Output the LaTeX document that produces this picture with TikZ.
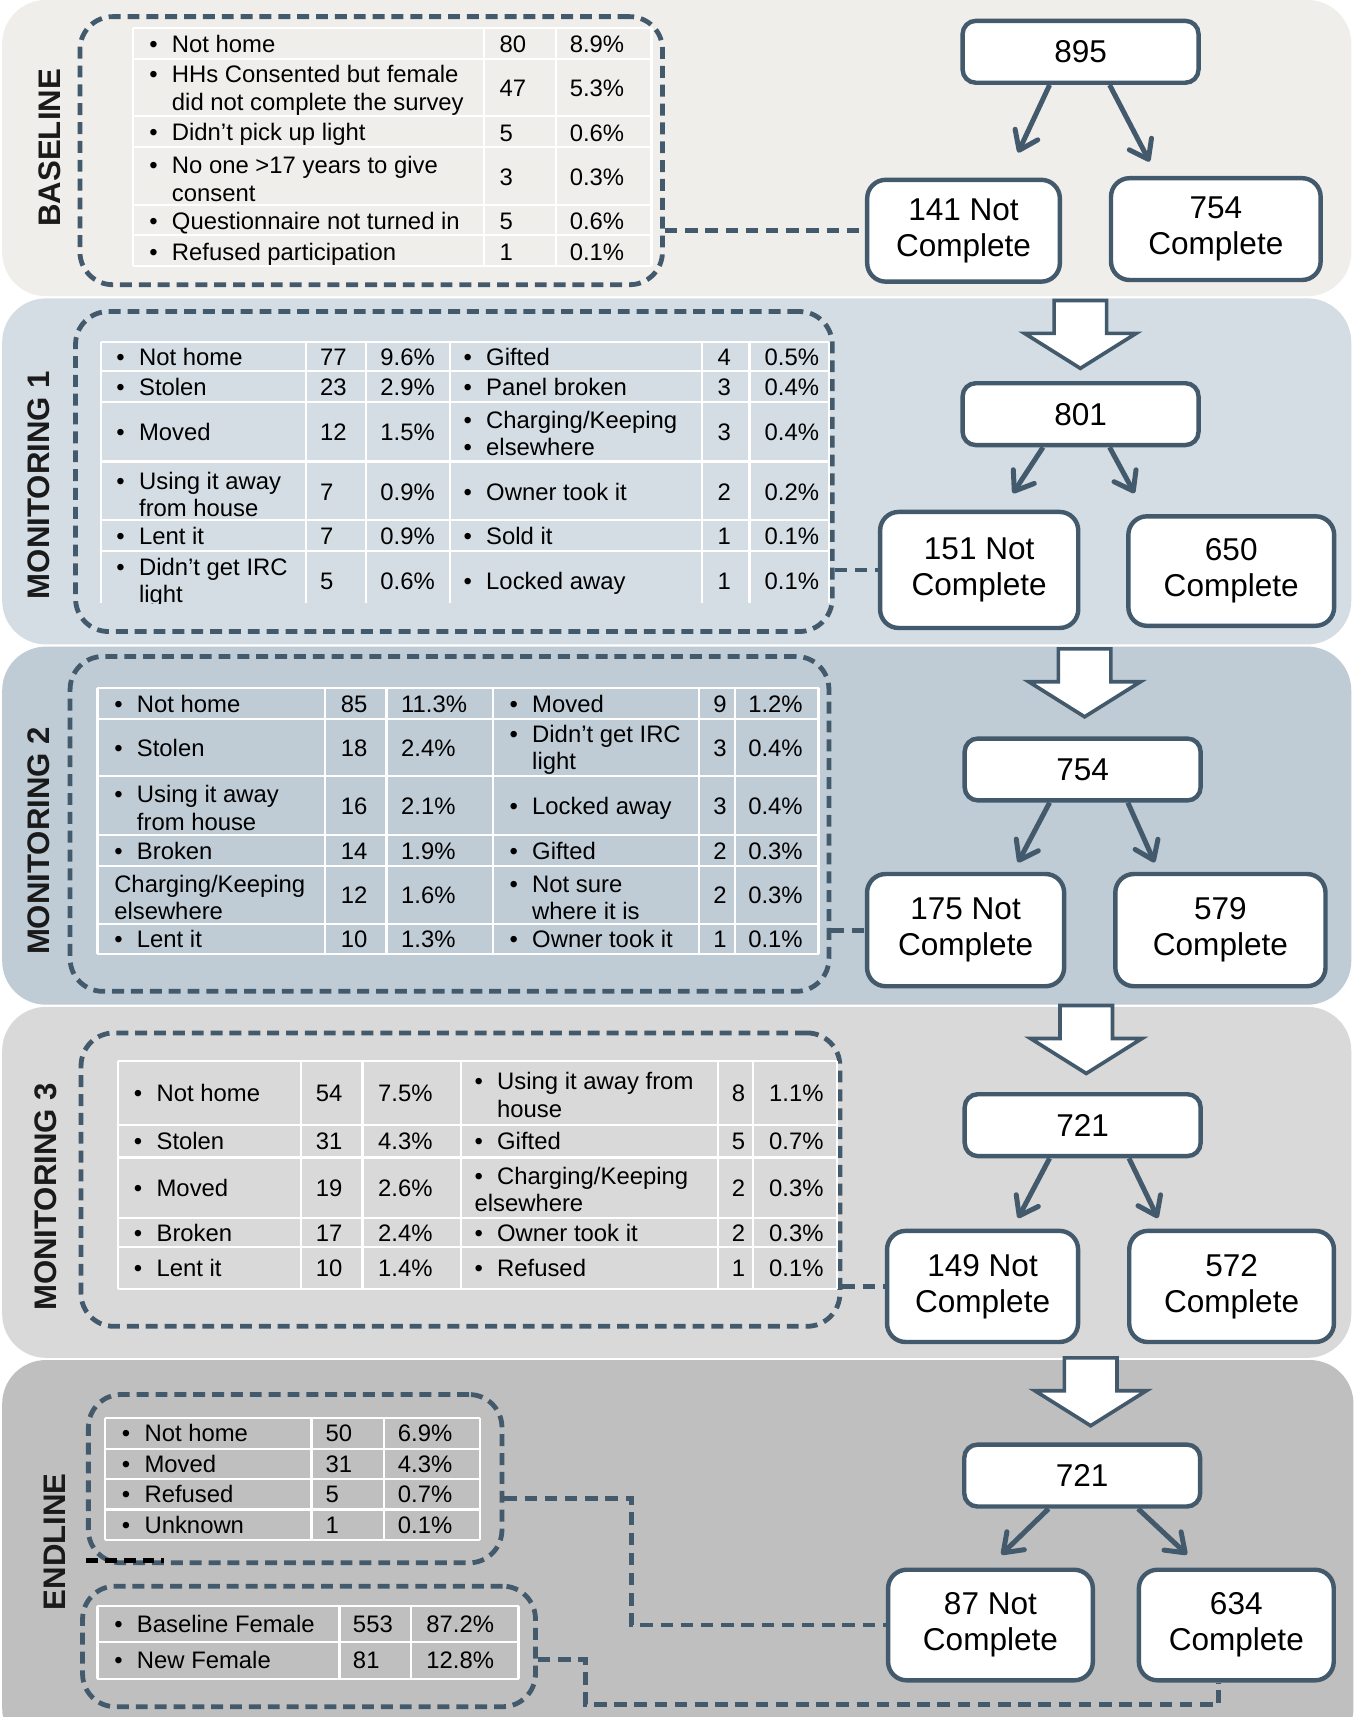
\documentclass[tikz,border=0pt]{standalone}
\usepackage{fontspec}
\setmainfont{Liberation Sans}
\usetikzlibrary{arrows.meta, positioning, fit, calc}
\definecolor{slate}{HTML}{435A6C}
\definecolor{bandbase}{HTML}{F0EEEA}
\definecolor{bandmone}{HTML}{D4DDE4}
\definecolor{bandmtwo}{HTML}{BFCCD6}
\definecolor{bandmthree}{HTML}{D9D9D9}
\definecolor{bandend}{HTML}{BFBFBF}
\definecolor{labelink}{HTML}{1A1A1A}
\newcommand{\tabfont}{\fontsize{12.4}{14.2}\selectfont}
\newcommand{\boxfont}{\fontsize{16.4}{18.7}\selectfont}
\newcommand{\tbul}{\makebox[0.95em][l]{\textbullet}}
\newcommand{\tind}{\hspace*{0.95em}}
\newcommand{\tstrut}{\rule[-0.18em]{0pt}{1.08em}}
\newcommand{\tablegrid}[6]{%
  \foreach \gy in {#1} {\draw[grid] (#3,\gy) -- (#4,\gy);}%
  \foreach \gx in {#2} {\draw[grid] (\gx,#5) -- (\gx,#6);}%
}
\tikzset{
  band/.style={rounded corners=0.8cm},
  dbox/.style={draw=slate, line width=2.5pt, dash pattern=on 6.2pt off 3.6pt, rounded corners=0.6cm, inner sep=0pt},
  dlink/.style={draw=slate, line width=2.5pt, dash pattern=on 6.5pt off 4pt},
  stubdash/.style={draw=black, line width=2.5pt, dash pattern=on 6.2pt off 3.6pt},
  grid/.style={draw=white, line width=1.1pt},
  cell/.style={font=\tabfont, inner sep=0pt, anchor=west, align=left},
  phase/.style={rotate=90, font=\fontsize{16.2}{18}\selectfont\bfseries, text=labelink},
  topbox/.style={draw=slate, fill=white, line width=2.3pt, rounded corners=0.24cm,
    minimum width=4.31cm, minimum height=1.13cm, font=\boxfont},
  leafbox/.style={draw=slate, fill=white, line width=2.3pt, rounded corners=0.34cm,
    align=center, font=\boxfont, minimum height=2.05cm},
  split/.style={draw=slate, line width=2.6pt, -{Straight Barb[length=9pt, width=13pt, round]}},
  blockarr/.style={draw=slate, fill=white, line width=1.9pt, line join=miter},
  downarrow/.pic={\path[blockarr] (-24,0) -- (24,0) -- (24,30) -- (51,30) -- (0,62) -- (-51,30) -- (-24,30) -- cycle;}
}

\begin{document}
\begin{tikzpicture}[x=0.02cm, y=-0.02cm]
\useasboundingbox (0,0) rectangle (1237,1568);
\fill[white] (0,0) rectangle (1237,1568);
\fill[band, bandbase] (2,0) rectangle (1234,270.5);
\fill[band, bandmone] (2,272.5) rectangle (1234,588.5);
\fill[band, bandmtwo] (2,590.5) rectangle (1234,917.5);
\fill[band, bandmthree] (2,919.5) rectangle (1234,1240);
\fill[band, bandend] (2,1242) rectangle (1236,1600);

\node[dbox, fit={(73,15.2) (605,260)}] (dbase) {};
\node[dbox, fit={(69,284.5) (760,576.7)}] (dm1) {};
\node[dbox, fit={(64,599.5) (757,905.3)}] (dm2) {};
\node[dbox, fit={(74,943.3) (767,1211.2)}] (dm3) {};
\node[dbox, fit={(80.7,1273.5) (458.4,1427.2)}] (de1) {};
\node[dbox, fit={(75.4,1448.5) (489,1558.6)}] (de2) {};

\tablegrid{25.5,53.5,106,134.5,187,215,243}{121.5,442,507.5,595}{121.5}{595}{25.5}{243}
\foreach \y/\txt/\cnt/\pct [count=\i] in {
  40/{\tbul Not home}/80/8.9\%,
  80.5/{\tbul HHs Consented but female\\\tind did not complete the survey}/47/5.3\%,
  121/{\tbul Didn’t pick up light}/5/0.6\%,
  161.5/{\tbul No one >17 years to give\\\tind consent}/3/0.3\%,
  202/{\tbul Questionnaire not turned in}/5/0.6\%,
  230/{\tbul Refused participation}/1/0.1\%}{
  \node[cell] (b\i-t) at (136,\y) {\tstrut\txt};
  \node[cell] (b\i-n) at (456,\y) {\tstrut\cnt};
  \node[cell] (b\i-p) at (520,\y) {\tstrut\pct};
}

\begin{scope}
\clip (90,310) rectangle (760,551);
\tablegrid{312,339,367,421.5,475,503}{92.5,279.5,334,411,641,684.5,757}{92.5}{757}{312}{551}
\foreach \y/\la/\na/\pa/\lb/\nb/\pb [count=\i] in {
  325.5/{\tbul Not home}/77/9.6\%/{\tbul Gifted}/4/0.5\%,
  353/{\tbul Stolen}/23/2.9\%/{\tbul Panel broken}/3/0.4\%,
  394/{\tbul Moved}/12/1.5\%/{\tbul Charging/Keeping\\\tbul elsewhere}/3/0.4\%,
  449.5/{\tbul Using it away\\\tind from house}/7/0.9\%/{\tbul Owner took it}/2/0.2\%,
  489.5/{\tbul Lent it}/7/0.9\%/{\tbul Sold it}/1/0.1\%,
  530.5/{\tbul Didn’t get IRC\\\tind light}/5/0.6\%/{\tbul Locked away}/1/0.1\%}{
  \node[cell] (ma\i-t) at (106,\y) {\tstrut\la};
  \node[cell] (ma\i-n) at (292,\y) {\tstrut\na};
  \node[cell] (ma\i-p) at (347,\y) {\tstrut\pa};
  \node[cell] (ma\i-u) at (423,\y) {\tstrut\lb};
  \node[cell] (ma\i-m) at (655,\y) {\tstrut\nb};
  \node[cell] (ma\i-q) at (698,\y) {\tstrut\pb};
}
\end{scope}

\tablegrid{628.5,656.5,709,762.5,791,843.5,871}{89,297,353,450,638.5,671.5,747.5}{89}{747.5}{628.5}{871}
\foreach \y/\la/\na/\pa/\lb/\nb/\pb [count=\i] in {
  643/{\tbul Not home}/85/11.3\%/{\tbul Moved}/9/1.2\%,
  683/{\tbul Stolen}/18/2.4\%/{\tbul Didn’t get IRC\\\tind light}/3/0.4\%,
  736/{\tbul Using it away\\\tind from house}/16/2.1\%/{\tbul Locked away}/3/0.4\%,
  777/{\tbul Broken}/14/1.9\%/{\tbul Gifted}/2/0.3\%,
  817.5/{Charging/Keeping\\elsewhere}/12/1.6\%/{\tbul Not sure\\\tind where it is}/2/0.3\%,
  857.5/{\tbul Lent it}/10/1.3\%/{\tbul Owner took it}/1/0.1\%}{
  \node[cell] (mb\i-t) at (104,\y) {\tstrut\la};
  \node[cell] (mb\i-n) at (311,\y) {\tstrut\na};
  \node[cell] (mb\i-p) at (366,\y) {\tstrut\pa};
  \node[cell] (mb\i-u) at (465,\y) {\tstrut\lb};
  \node[cell] (mb\i-m) at (651,\y) {\tstrut\nb};
  \node[cell] (mb\i-q) at (683,\y) {\tstrut\pb};
}

\tablegrid{969,1027,1057,1112,1139,1177}{108,275,331,421,656,688,764.5}{108}{764.5}{969}{1177}
\foreach \y/\la/\na/\pa/\lb/\nb/\pb [count=\i] in {
  998/{\tbul Not home}/54/7.5\%/{\tbul Using it away from\\\tind house}/8/1.1\%,
  1042/{\tbul Stolen}/31/4.3\%/{\tbul Gifted}/5/0.7\%,
  1084.5/{\tbul Moved}/19/2.6\%/{\tbul Charging/Keeping\\elsewhere}/2/0.3\%,
  1125.5/{\tbul Broken}/17/2.4\%/{\tbul Owner took it}/2/0.3\%,
  1158/{\tbul Lent it}/10/1.4\%/{\tbul Refused}/1/0.1\%}{
  \node[cell] (mc\i-t) at (122,\y) {\tstrut\la};
  \node[cell] (mc\i-n) at (288,\y) {\tstrut\na};
  \node[cell] (mc\i-p) at (345,\y) {\tstrut\pa};
  \node[cell] (mc\i-u) at (433,\y) {\tstrut\lb};
  \node[cell] (mc\i-m) at (668,\y) {\tstrut\nb};
  \node[cell] (mc\i-q) at (702,\y) {\tstrut\pb};
}

\tablegrid{1295,1323,1350.5,1378.5,1406}{96,284.5,350.5,438}{96}{438}{1295}{1406}
\foreach \y/\txt/\cnt/\pct [count=\i] in {
  1309/{\tbul Not home}/50/6.9\%, 1337/{\tbul Moved}/31/4.3\%,
  1364.5/{\tbul Refused}/5/0.7\%, 1392.5/{\tbul Unknown}/1/0.1\%}{
  \node[cell] (ea\i-t) at (111,\y) {\tstrut\txt};
  \node[cell] (ea\i-n) at (297,\y) {\tstrut\cnt};
  \node[cell] (ea\i-p) at (363,\y) {\tstrut\pct};
}
\tablegrid{1466.5,1499.5,1533}{89,310,375,473.5}{89}{473.5}{1466.5}{1533}
\foreach \y/\txt/\cnt/\pct [count=\i] in {
  1483/{\tbul Baseline Female}/553/87.2\%, 1516/{\tbul New Female}/81/12.8\%}{
  \node[cell] (eb\i-t) at (104,\y) {\tstrut\txt};
  \node[cell] (eb\i-n) at (322,\y) {\tstrut\cnt};
  \node[cell] (eb\i-p) at (389,\y) {\tstrut\pct};
}

\node[phase] (lbase) at (45,135) {BASELINE};
\node[phase] (lmone) at (35,443) {MONITORING 1};
\node[phase] (lmtwo) at (35,768) {MONITORING 2};
\node[phase] (lmthree) at (42,1093) {MONITORING 3};
\node[phase] (lend) at (50,1408) {ENDLINE};

\node[topbox] (n895) at (986.8,47.3) {895};
\node[leafbox, minimum width=3.52cm, minimum height=1.86cm] (n141) at (879.9,210.7) {141 Not\\Complete};
\node[leafbox, minimum width=3.83cm, minimum height=1.86cm] (n754c) at (1110.3,209.2) {754\\Complete};
\pic (barra) at (986.6,274.4) {downarrow};
\node[topbox] (n801) at (986.8,378.2) {801};
\node[leafbox, minimum width=3.62cm, minimum height=2.12cm] (n151) at (894.2,520.5) {151 Not\\Complete};
\node[leafbox, minimum width=3.76cm, minimum height=2cm] (n650) at (1124.4,521.5) {650\\Complete};
\pic (barrb) at (990.5,592.6) {downarrow};
\node[topbox] (n754) at (988.7,702.7) {754};
\node[leafbox, minimum width=3.6cm] (n175) at (881.8,849.4) {175 Not\\Complete};
\node[leafbox, minimum width=3.84cm] (n579) at (1114.5,849.4) {579\\Complete};
\pic (barrc) at (992,918.3) {downarrow};
\node[topbox] (n721a) at (988.7,1027.5) {721};
\node[leafbox, minimum width=3.49cm, minimum height=2.03cm] (n149) at (897.3,1174.8) {149 Not\\Complete};
\node[leafbox, minimum width=3.74cm, minimum height=2.03cm] (n572) at (1124.7,1174.8) {572\\Complete};
\pic (barrd) at (996,1240) {downarrow};
\node[topbox] (n721b) at (988.3,1347.5) {721};
\node[leafbox, minimum width=3.74cm, minimum height=2.02cm] (n87) at (904.5,1484) {87 Not\\Complete};
\node[leafbox, minimum width=3.56cm, minimum height=2.02cm] (n634) at (1129,1484) {634\\Complete};

\coordinate (ta1) at (929.7,139.3);  \coordinate (ta2) at (1049.8,147.6);
\coordinate (tb1) at (925,450.4);    \coordinate (tb2) at (1036,450.4);
\coordinate (tc1) at (929.7,787.6);  \coordinate (tc2) at (1054.4,787.6);
\coordinate (td1) at (929.7,1112.4); \coordinate (td2) at (1057.4,1112.4);
\coordinate (te1) at (914.5,1419.6); \coordinate (te2) at (1084,1419.6);
\draw[split] ($(n895.south)+(-28.3,0)$) -- (ta1);
\draw[split] ($(n895.south)+(26.5,0)$) -- (ta2);
\draw[split] ($(n801.south)+(-34.3,0)$) -- (tb1);
\draw[split] ($(n801.south)+(26.5,0)$) -- (tb2);
\draw[split] ($(n754.south)+(-30.2,0)$) -- (tc1);
\draw[split] ($(n754.south)+(41.3,0)$) -- (tc2);
\draw[split] ($(n721a.south)+(-30.2,0)$) -- (td1);
\draw[split] ($(n721a.south)+(42.3,0)$) -- (td2);
\draw[split] ($(n721b.south)+(-30.7,0)$) -- (te1);
\draw[split] ($(n721b.south)+(51,0)$) -- (te2);

\draw[dlink] (dbase.east |- n141.west) -- (n141.west);
\draw[dlink] (dm1.east |- n151.west) -- (n151.west);
\draw[dlink] (dm2.east |- n175.west) -- (n175.west);
\draw[dlink] (dm3.east |- n149.west) -- (n149.west);
\draw[dlink] ($(de1.east)+(0,18)$) -| ($(n87.west)+(-232,0)$) -- (n87.west);
\coordinate (ebend) at (535,1556.5);
\draw[dlink] ($(de2.east)+(0,12)$) -| (ebend) -| ($(n634.south)+(-16,0)$);
\coordinate (stub) at (150,1425);
\draw[stubdash] (de1.south west |- stub) -- (stub);
\end{tikzpicture}
\end{document}
